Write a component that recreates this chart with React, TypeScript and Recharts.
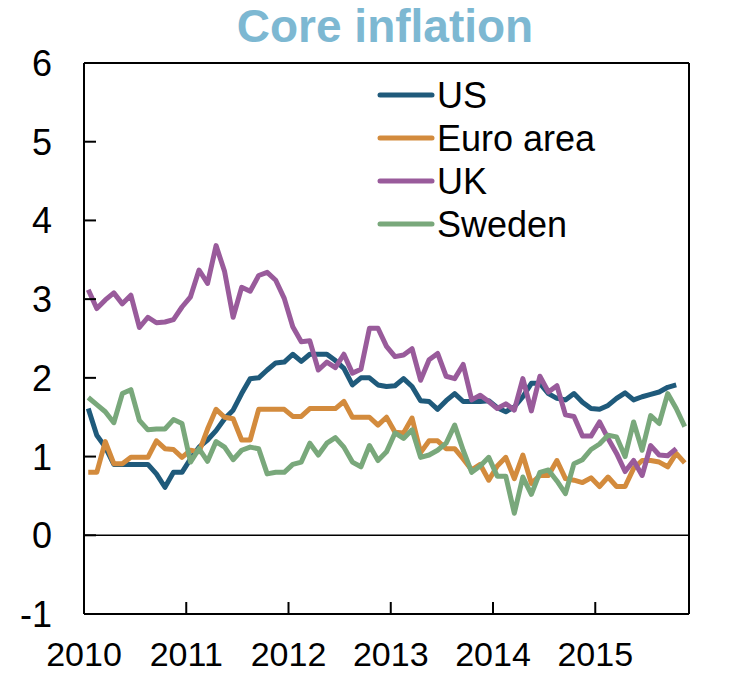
import React from 'react'
import { LineChart, Line, XAxis, YAxis, ReferenceLine } from 'recharts'

// monthly core inflation, Jan 2010 .. Nov 2015 (index 0 = Jan 2010)
const YEAR_LABELS = ['2010', '2011', '2012', '2013', '2014', '2015']
const Y_TICKS = [-1, 0, 1, 2, 3, 4, 5, 6]

const US = [
  1.61, 1.27, 1.12, 0.9, 0.9, 0.9, 0.9, 0.9, 0.78, 0.61, 0.8, 0.8,
  0.97, 1.12, 1.21, 1.33, 1.48, 1.59, 1.8, 1.99, 2.0, 2.1, 2.19, 2.2,
  2.3, 2.21, 2.3, 2.3, 2.3, 2.22, 2.12, 1.91, 2.0, 2.0, 1.91, 1.89,
  1.9, 1.99, 1.89, 1.71, 1.7, 1.6, 1.71, 1.8, 1.7, 1.7, 1.7, 1.71,
  1.62, 1.57, 1.63, 1.76, 1.93, 1.93, 1.8, 1.74, 1.72, 1.8, 1.69, 1.61,
  1.6, 1.65, 1.74, 1.81, 1.72, 1.76, 1.79, 1.82, 1.88, 1.91, null,
]
const EURO = [
  0.8, 0.8, 1.19, 0.91, 0.91, 0.99, 0.99, 0.99, 1.2, 1.1, 1.09, 0.99,
  1.08, 1.06, 1.35, 1.6, 1.5, 1.48, 1.21, 1.21, 1.6, 1.6, 1.6, 1.6,
  1.51, 1.51, 1.61, 1.61, 1.61, 1.61, 1.7, 1.5, 1.5, 1.5, 1.4, 1.5,
  1.31, 1.3, 1.49, 1.05, 1.2, 1.2, 1.1, 1.1, 0.97, 0.83, 0.9, 0.7,
  0.88, 0.99, 0.72, 1.02, 0.66, 0.76, 0.76, 0.95, 0.72, 0.7, 0.67, 0.73,
  0.62, 0.74, 0.62, 0.62, 0.85, 0.95, 0.95, 0.93, 0.87, 1.04, 0.92,
]
const UK = [
  3.12, 2.88, 2.99, 3.08, 2.94, 3.05, 2.64, 2.77, 2.7, 2.71, 2.74, 2.9,
  3.03, 3.37, 3.2, 3.68, 3.35, 2.77, 3.15, 3.1, 3.3, 3.34, 3.24, 3.01,
  2.65, 2.46, 2.47, 2.1, 2.2, 2.13, 2.3, 2.06, 2.11, 2.63, 2.63, 2.4,
  2.27, 2.29, 2.37, 1.97, 2.23, 2.31, 2.02, 1.99, 2.17, 1.72, 1.78, 1.7,
  1.61, 1.67, 1.59, 1.99, 1.58, 2.02, 1.82, 1.9, 1.53, 1.51, 1.26, 1.26,
  1.44, 1.23, 1.04, 0.81, 0.95, 0.76, 1.14, 1.02, 1.01, 1.1, null,
]
const SWEDEN = [
  1.75, 1.66, 1.57, 1.43, 1.8, 1.85, 1.46, 1.34, 1.35, 1.35, 1.47, 1.42,
  0.93, 1.1, 0.94, 1.19, 1.12, 0.96, 1.08, 1.12, 1.1, 0.78, 0.8, 0.8,
  0.9, 0.93, 1.17, 1.02, 1.17, 1.24, 1.12, 0.93, 0.87, 1.14, 0.95, 1.06,
  1.3, 1.23, 1.34, 0.99, 1.02, 1.08, 1.17, 1.4, 1.08, 0.8, 0.88, 0.99,
  0.75, 0.75, 0.28, 0.74, 0.52, 0.8, 0.83, 0.69, 0.53, 0.91, 0.96, 1.09,
  1.16, 1.27, 1.25, 1.0, 1.44, 1.08, 1.52, 1.42, 1.8, 1.61, 1.38,
]

const SERIES = [
  { key: 'us', name: 'US', color: '#1f5a7b' },
  { key: 'euro', name: 'Euro area', color: '#d38b3d' },
  { key: 'uk', name: 'UK', color: '#995b9b' },
  { key: 'sweden', name: 'Sweden', color: '#79a87b' },
]

const data = US.map((v, i) => ({
  t: i + 0.5,
  us: v,
  euro: EURO[i],
  uk: UK[i],
  sweden: SWEDEN[i],
}))

const FONT = '"Liberation Sans", Arial, sans-serif'
const FS = 36
const X_FS = 34
const TICK_LEN = 12
const LEFT_GAP = 32
const RIGHT_GAP = 16
const X_GAP = 28

function YTick(props: any) {
  const { x, y, payload, side } = props
  const left = side === 'left'
  const axisX = left ? x + LEFT_GAP : x - RIGHT_GAP
  const inner = left ? axisX + TICK_LEN : axisX - TICK_LEN
  return (
    <g>
      <line x1={axisX} x2={inner} y1={y} y2={y} stroke="#000" strokeWidth={2} />
      <text
        x={x}
        y={y}
        dy="0.36em"
        textAnchor={left ? 'end' : 'start'}
        fontSize={FS}
        fontFamily={FONT}
        fill="#000"
      >
        {payload.value}
      </text>
    </g>
  )
}

function XTick(props: any) {
  const { x, y, payload, index } = props
  const axisY = y - X_GAP
  return (
    <g>
      <line x1={x} x2={x} y1={axisY} y2={axisY - TICK_LEN} stroke="#000" strokeWidth={2} />
      <text x={x} y={y} dy="0.71em" textAnchor="middle" fontSize={X_FS} fontFamily={FONT} fill="#000">
        {YEAR_LABELS[index] ?? payload.value}
      </text>
    </g>
  )
}

function LegendBox() {
  return (
    <svg width={280} height={180} style={{ position: 'absolute', left: 370, top: 70 }}>
      {SERIES.map((s, i) => {
        const cy = 25 + i * 43
        return (
          <g key={s.key}>
            <line x1={10} x2={62} y1={cy} y2={cy} stroke={s.color} strokeWidth={5} strokeLinecap="round" />
            <text x={67} y={cy} dy="0.36em" fontSize={FS} fontFamily={FONT} fill="#000">
              {s.name}
            </text>
          </g>
        )
      })}
    </svg>
  )
}

export default function App() {
  return (
    <div style={{ position: 'absolute', left: 0, top: 0, width: 755, height: 674, background: '#fff' }}>
      <div
        style={{
          position: 'absolute',
          left: 0,
          top: 0,
          width: 770,
          textAlign: 'center',
          fontFamily: FONT,
          fontWeight: 'bold',
          fontSize: 46,
          lineHeight: '52px',
          color: '#7db8d2',
        }}
      >
        Core inflation
      </div>
      <LineChart
        width={755}
        height={674}
        data={data}
        margin={{ top: 63, right: 6, bottom: 0, left: 24 }}
      >
        <XAxis
          dataKey="t"
          type="number"
          domain={[0, 71]}
          ticks={[0, 12, 24, 36, 48, 60]}
          height={60}
          tickSize={0}
          tickMargin={X_GAP}
          axisLine={{ stroke: '#000', strokeWidth: 2 }}
          tick={(p: any) => <XTick {...p} />}
          interval={0}
        />
        <YAxis
          yAxisId="left"
          domain={[-1, 6]}
          ticks={Y_TICKS}
          width={60}
          tickSize={0}
          tickMargin={LEFT_GAP}
          axisLine={{ stroke: '#000', strokeWidth: 2 }}
          tick={(p: any) => <YTick {...p} side="left" />}
          interval={0}
        />
        <YAxis
          yAxisId="right"
          orientation="right"
          domain={[-1, 6]}
          ticks={Y_TICKS}
          width={60}
          tickSize={0}
          tickMargin={RIGHT_GAP}
          axisLine={{ stroke: '#000', strokeWidth: 2 }}
          tick={(p: any) => <YTick {...p} side="right" />}
          interval={0}
        />
        <ReferenceLine yAxisId="left" y={6} stroke="#000" strokeWidth={2} />
        <ReferenceLine yAxisId="left" y={0} stroke="#000" strokeWidth={1.5} />
        {SERIES.map((s) => (
          <Line
            key={s.key}
            yAxisId="left"
            type="linear"
            dataKey={s.key}
            name={s.name}
            stroke={s.color}
            strokeWidth={5}
            strokeLinejoin="round"
            dot={false}
            activeDot={false}
            isAnimationActive={false}
            connectNulls={false}
          />
        ))}
      </LineChart>
      <LegendBox />
    </div>
  )
}
